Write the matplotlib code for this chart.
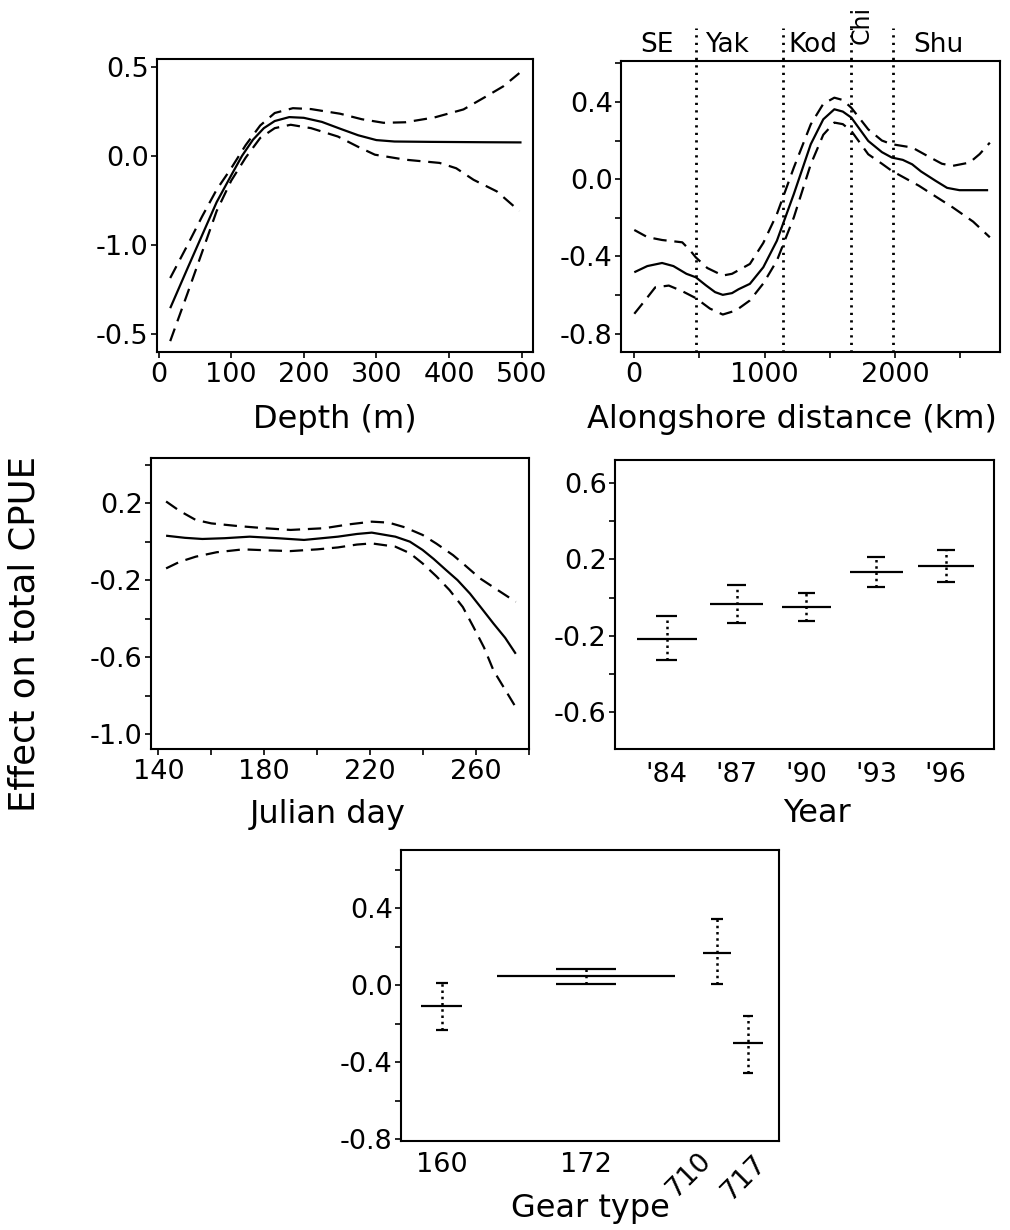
import matplotlib
matplotlib.use("Agg")
import matplotlib.pyplot as plt

plt.rcParams['font.family'] = ['DejaVu Sans']
plt.rcParams['axes.unicode_minus'] = False

# ---------------- data ----------------
# Depth panel
depth_fit_x = [16, 40, 60, 80, 100, 115, 130, 145, 160, 180, 200, 225, 250, 275, 300, 325, 375, 450, 500]
depth_fit_y = [-0.855, -0.63, -0.445, -0.26, -0.11, 0.0, 0.09, 0.155, 0.195, 0.217, 0.213, 0.19, 0.152,
               0.115, 0.088, 0.08, 0.078, 0.076, 0.075]
depth_up_x = [16, 40, 60, 80, 100, 120, 140, 160, 185, 210, 250, 280, 310, 340, 380, 420, 450, 475, 497]
depth_up_y = [-0.686, -0.5, -0.34, -0.19, -0.07, 0.06, 0.17, 0.24, 0.267, 0.262, 0.236, 0.205, 0.185,
              0.188, 0.215, 0.26, 0.33, 0.39, 0.464]
depth_lo_x = [16, 40, 60, 80, 100, 120, 140, 160, 182, 210, 247, 275, 298, 340, 387, 410, 434, 466, 497]
depth_lo_y = [-1.04, -0.77, -0.54, -0.31, -0.14, -0.01, 0.1, 0.155, 0.174, 0.155, 0.108, 0.05, 0.006,
              -0.022, -0.04, -0.07, -0.135, -0.2, -0.31]
depth_ticks = [0, 100, 200, 300, 400, 500]
depth_yticks = [0.5, 0.0, -0.5, -1.0]
depth_yticklabels = ["0.5", "0.0", "-1.0", "-0.5"]

# Alongshore panel
along_fit_x = [0, 100, 213, 300, 400, 472, 550, 620, 679, 750, 800, 887, 990, 1094, 1224, 1354, 1450,
               1535, 1600, 1665, 1795, 1900, 1976, 2060, 2132, 2200, 2313, 2400, 2495, 2715]
along_fit_y = [-0.482, -0.45, -0.434, -0.45, -0.49, -0.508, -0.55, -0.585, -0.599, -0.59, -0.57, -0.542,
               -0.456, -0.319, -0.077, 0.181, 0.31, 0.362, 0.35, 0.319, 0.198, 0.14, 0.112, 0.1, 0.077,
               0.04, -0.009, -0.045, -0.057, -0.057]
along_up_x = [0, 100, 213, 368, 430, 472, 560, 679, 750, 887, 990, 1094, 1224, 1354, 1450, 1535, 1600,
              1665, 1795, 1900, 1976, 2132, 2250, 2360, 2443, 2573, 2650, 2728]
along_up_y = [-0.263, -0.3, -0.315, -0.327, -0.37, -0.405, -0.46, -0.499, -0.49, -0.439, -0.33, -0.181,
              0.06, 0.284, 0.39, 0.422, 0.41, 0.37, 0.258, 0.2, 0.181, 0.164, 0.12, 0.08, 0.069, 0.086,
              0.13, 0.189]
along_lo_x = [0, 80, 161, 265, 368, 472, 580, 679, 780, 887, 990, 1094, 1224, 1354, 1450, 1535, 1600,
              1665, 1795, 1900, 1976, 2184, 2313, 2443, 2600, 2728]
along_lo_y = [-0.697, -0.63, -0.56, -0.551, -0.58, -0.616, -0.67, -0.701, -0.68, -0.628, -0.54, -0.422,
              -0.198, 0.077, 0.23, 0.293, 0.285, 0.25, 0.129, 0.08, 0.043, -0.034, -0.09, -0.146, -0.22,
              -0.301]
region_bounds = [477, 1143, 1663, 1985]
region_names = ["SE", "Yak", "Kod", "Shu"]
region_name_x = [174, 709, 1371, 2335]
chi_name = "Chi"
chi_x = 1745

# Julian day panel
day_fit_x = [142.9, 150, 156.6, 165, 174.5, 185, 195, 207.8, 215, 220.6, 229.5, 235, 239.8, 244, 248.7,
             253, 257.7, 262, 266.6, 271, 275]
day_fit_y = [0.031, 0.02, 0.014, 0.018, 0.026, 0.018, 0.009, 0.026, 0.04, 0.047, 0.026, 0.0, -0.043,
             -0.09, -0.148, -0.2, -0.27, -0.345, -0.426, -0.5, -0.583]
day_up_x = [142.9, 148, 154.1, 160, 169.4, 180, 189.9, 202.7, 212, 220.6, 227, 233, 239.8, 245, 251.3,
            256, 261.5, 268, 275]
day_up_y = [0.209, 0.16, 0.113, 0.095, 0.082, 0.07, 0.061, 0.07, 0.09, 0.104, 0.099, 0.075, 0.035,
            -0.01, -0.07, -0.125, -0.191, -0.25, -0.313]
day_lo_x = [142.9, 148, 154.1, 162, 172, 181, 189.9, 200, 207.8, 215, 220.6, 229.5, 235, 239.8, 245,
            250, 255, 259, 263, 266.6, 271, 275]
day_lo_y = [-0.139, -0.105, -0.078, -0.055, -0.04, -0.045, -0.049, -0.04, -0.03, -0.015, -0.009, -0.026,
            -0.06, -0.113, -0.18, -0.252, -0.34, -0.443, -0.55, -0.67, -0.77, -0.861]

# Year panel
years = [1984, 1987, 1990, 1993, 1996]
year_labels = ["'84", "'87", "'90", "'93", "'96"]
year_mid = [-0.216, -0.033, -0.050, 0.132, 0.165]
year_hi = [-0.099, 0.066, 0.026, 0.210, 0.249]
year_lo = [-0.325, -0.134, -0.125, 0.054, 0.080]
year_halfwidth = [1.29, 1.145, 1.05, 1.14, 1.195]
year_caphalf = [0.45, 0.405, 0.365, 0.375, 0.385]

# Gear panel
gear_labels = ["160", "172", "710", "717"]
gear_pos = [0.108, 0.489, 0.836, 0.918]
gear_mid = [-0.109, 0.047, 0.170, -0.303]
gear_hi = [0.012, 0.083, 0.342, -0.160]
gear_lo = [-0.234, 0.005, 0.004, -0.454]
gear_halfwidth = [0.054, 0.235, 0.036, 0.040]
gear_caphalf = [0.016, 0.079, 0.017, 0.013]

# ---------------- layout ----------------
W, H = 1010, 1230
fig = plt.figure(figsize=(W / 100, H / 100), dpi=100)


def add_axes_px(left, top, right, bottom):
    return fig.add_axes([left / W, 1 - bottom / H, (right - left) / W, (bottom - top) / H])


TICK_FS = 19.5
LAB_FS = 23
LW_SPINE = 1.5
SOLID = dict(color='k', lw=1.6, solid_capstyle='butt')
DASH = dict(color='k', lw=1.6, linestyle=(0, (6, 3.5)))


def style(ax, xpad=3):
    for s in ax.spines.values():
        s.set_linewidth(LW_SPINE)
    ax.tick_params(which='both', direction='out', length=4, width=1.2, labelsize=TICK_FS,
                   top=False, right=False)
    ax.tick_params(axis='y', which='both', pad=2)
    ax.tick_params(axis='x', which='both', pad=xpad)


def ftext(x, y, s, **kw):
    fig.text(x / W, 1 - y / H, s, **kw)


# Panel 1: depth
ax1 = add_axes_px(157, 59, 533, 352)
ax1.plot(depth_fit_x, depth_fit_y, **SOLID)
ax1.plot(depth_up_x, depth_up_y, **DASH)
ax1.plot(depth_lo_x, depth_lo_y, **DASH)
ax1.set_xlim(-2.2, 515.8)
ax1.set_ylim(-1.101, 0.543)
ax1.set_xticks(depth_ticks)
ax1.set_yticks(depth_yticks)
ax1.set_yticklabels(depth_yticklabels)
style(ax1)
ftext(335, 428, "Depth (m)", ha='center', va='baseline', fontsize=LAB_FS)

# Panel 2: alongshore
ax2 = add_axes_px(621, 61, 1000, 352)
ax2.plot(along_fit_x, along_fit_y, **SOLID)
ax2.plot(along_up_x, along_up_y, **DASH)
ax2.plot(along_lo_x, along_lo_y, **DASH)
ax2.vlines(region_bounds, 0, 1.112, transform=ax2.get_xaxis_transform(), clip_on=False,
           colors='k', lw=2.0, linestyles=[(0, (0.8, 1.9))])
for nm, xx in zip(region_names, region_name_x):
    ax2.text(xx, 1.03, nm, transform=ax2.get_xaxis_transform(), ha='center', va='baseline',
             fontsize=19)
ax2.text(chi_x, 1.125, chi_name, transform=ax2.get_xaxis_transform(), ha='center', va='center',
         rotation=90, fontsize=17)
ax2.set_xlim(-102, 2806)
ax2.set_ylim(-0.895, 0.612)
ax2.set_xticks([0, 1000, 2000])
ax2.set_xticks([500, 1500, 2500], minor=True)
ax2.set_yticks([0.4, 0.0, -0.4, -0.8])
ax2.set_yticklabels(["0.4", "0.0", "-0.4", "-0.8"])
ax2.set_yticks([0.6, 0.2, -0.2, -0.6], minor=True)
style(ax2)
ftext(792, 428, "Alongshore distance (km)", ha='center', va='baseline', fontsize=LAB_FS)

# Panel 3: Julian day
ax3 = add_axes_px(151, 458, 529, 749)
ax3.plot(day_fit_x, day_fit_y, **SOLID)
ax3.plot(day_up_x, day_up_y, **DASH)
ax3.plot(day_lo_x, day_lo_y, **DASH)
ax3.set_xlim(137.2, 280)
ax3.set_ylim(-1.078, 0.435)
ax3.set_xticks([140, 180, 220, 260])
ax3.set_xticks([160, 200, 240, 280], minor=True)
ax3.set_yticks([0.2, -0.2, -0.6, -1.0])
ax3.set_yticklabels(["0.2", "-0.2", "-0.6", "-1.0"])
ax3.set_yticks([0.4, 0.0, -0.4, -0.8], minor=True)
style(ax3)
ftext(328, 823, "Julian day", ha='center', va='baseline', fontsize=LAB_FS)


def errbars(ax, xs, mid, lo, hi, halfw, caph):
    for x, m, l, h, hw, ch in zip(xs, mid, lo, hi, halfw, caph):
        ax.hlines(m, x - hw, x + hw, colors='k', lw=1.6)
        ax.hlines([l, h], x - ch, x + ch, colors='k', lw=1.6)
        ax.vlines(x, l, h, colors='k', lw=1.8, linestyles=[(0, (1, 1.5))])


# Panel 4: year
ax4 = add_axes_px(615, 460, 994, 749)
errbars(ax4, years, year_mid, year_lo, year_hi, year_halfwidth, year_caphalf)
ax4.set_xlim(1981.77, 1998.07)
ax4.set_ylim(-0.791, 0.718)
ax4.set_xticks(years)
ax4.set_xticklabels(year_labels)
ax4.set_yticks([0.6, 0.2, -0.2, -0.6])
ax4.set_yticklabels(["0.6", "0.2", "-0.2", "-0.6"])
ax4.set_yticks([0.4, 0.0, -0.4], minor=True)
style(ax4, xpad=9)
ax4.tick_params(axis='x', length=0)
ftext(817, 822, "Year", ha='center', va='baseline', fontsize=LAB_FS)

# Panel 5: gear
ax5 = add_axes_px(401, 850, 779, 1141)
errbars(ax5, gear_pos, gear_mid, gear_lo, gear_hi, gear_halfwidth, gear_caphalf)
ax5.set_xlim(0, 1)
ax5.set_ylim(-0.81, 0.703)
ax5.set_xticks(gear_pos[:2])
ax5.set_xticklabels(gear_labels[:2])
ax5.set_yticks([0.4, 0.0, -0.4, -0.8])
ax5.set_yticklabels(["0.4", "0.0", "-0.4", "-0.8"])
ax5.set_yticks([0.6, 0.2, -0.2, -0.6], minor=True)
style(ax5, xpad=8)
ax5.tick_params(axis='x', length=0)
# rotated gear labels
ax5.text(0.836, -0.02, gear_labels[2], transform=ax5.transAxes, rotation=45, ha='right', va='top',
         fontsize=TICK_FS)
ax5.text(0.981, -0.031, gear_labels[3], transform=ax5.transAxes, rotation=45, ha='right', va='top',
         fontsize=TICK_FS)
ftext(590, 1217, "Gear type", ha='center', va='baseline', fontsize=LAB_FS)

# shared y label
ftext(25, 634, "Effect on total CPUE", ha='center', va='center', rotation=90, fontsize=25.5)

fig.savefig("out.png", dpi=100)
